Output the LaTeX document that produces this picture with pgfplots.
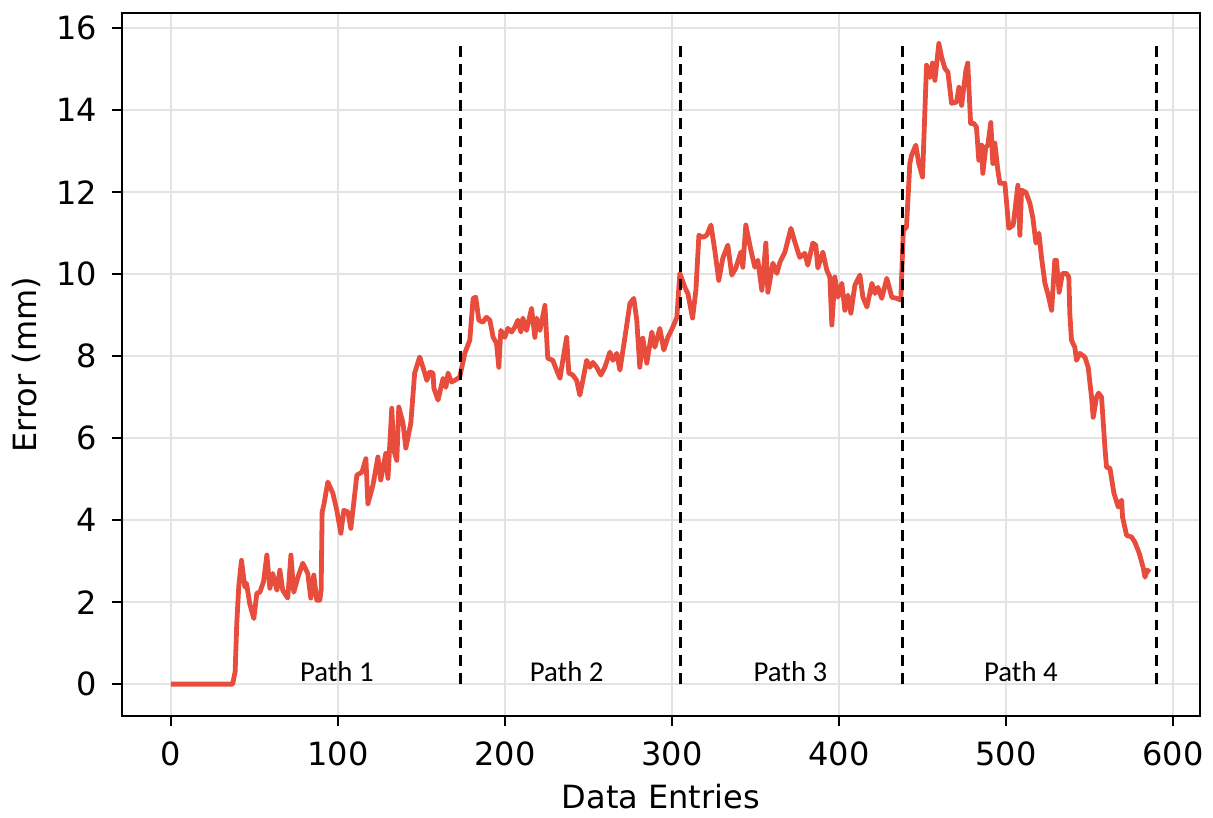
\documentclass[border=0pt]{standalone}
\usepackage{pgfplots}
\pgfplotsset{compat=1.18}
\usepackage{fontspec}
\setmainfont{DejaVu Sans}
\newfontfamily\pathfont{Carlito}
\definecolor{errred}{HTML}{E74C3C}
\definecolor{gridgray}{HTML}{E3E3E3}

\begin{document}
\begin{tikzpicture}
\useasboundingbox (-38.1pt,-31.6pt) rectangle (341pt,223.8pt);
\begin{axis}[
  at={(0,0)}, anchor=south west,
  scale only axis,
  width=336.9pt, height=219.7pt,
  xmin=-29.3, xmax=616.2,
  ymin=-0.78, ymax=16.37,
  xtick={0,100,...,600},
  ytick={0,2,...,16},
  tick pos=left,
  tick align=outside,
  major tick length=3.1pt,
  every tick/.style={black, line width=0.6pt},
  axis line style={line width=0.6pt},
  grid=major,
  major grid style={gridgray, line width=0.6pt},
  /pgf/number format/assume math mode=true,
  ticklabel style={font=\fontsize{10}{12}\selectfont},
  xticklabel style={yshift=-1.5pt},
  yticklabel style={xshift=-1.2pt},
  xlabel={Data Entries},
  ylabel={Error (mm)},
  every axis x label/.style={at={(axis description cs:0.5,0)}, yshift=-25.3pt, anchor=center, font=\fontsize{10}{12}\selectfont},
  every axis y label/.style={at={(axis description cs:0,0.5)}, xshift=-29.7pt, rotate=90, anchor=center, font=\fontsize{10}{12}\selectfont},
  clip=false,
]
% tracking error over all entries
\addplot[errred, line width=1.5pt, line join=round] coordinates {
(0,0) (37,0) (38.5,0.3) (39.5,1.5) (40.7,2.4) (42.3,3.02) (44.3,2.37) (45.3,2.46)
(47.3,1.95) (49.7,1.6) (51.5,2.22) (53.3,2.24) (55.5,2.5) (57.5,3.15) (59.3,2.34)
(61,2.7) (63.5,2.29) (65.3,2.78) (67,2.29) (70,2.1) (71.9,3.15) (73.6,2.24) (76,2.6)
(79,2.95) (82,2.7) (83.8,2.1) (85.6,2.66) (87.4,2.05) (89.2,2.05) (90.0,2.3)
(90.6,4.2) (91.6,4.37) (94,4.93) (97,4.66) (99.4,4.24) (101.8,3.68) (103.6,4.24)
(106,4.2) (107.8,3.8) (111.4,5.1) (114.4,5.17) (116.8,5.5) (118,4.4) (121,4.85)
(124,5.54) (125.7,4.98) (128.7,5.63) (130,5.02) (132.3,6.73) (133.5,5.7) (135.3,5.46)
(136.5,6.76) (139,6.37) (140.7,5.76) (143.7,6.37) (146,7.59) (149,7.98) (151,7.73)
(153.3,7.41) (155,7.61) (157,7.59) (157.5,7.22) (160,6.93) (163,7.46) (164.7,7.24)
(166,7.59) (168,7.37) (170,7.41) (173,7.49) (176,8.07) (179,8.39) (181,9.41)
(182.6,9.44) (184.4,8.88) (186.8,8.83) (189,8.95) (191,8.88) (193,8.46) (195,8.32)
(196.4,7.73) (197.6,8.63) (200,8.46) (201.8,8.68) (204,8.59) (206,8.71) (207.8,8.88)
(209.6,8.59) (210.8,8.93) (213,8.63) (216,9.17) (218,8.46) (219,8.93) (221,8.63)
(224,9.24) (225.7,7.95) (228.7,7.9) (231,7.66) (233,7.46) (234.7,7.9) (237,8.46)
(238.3,7.59) (240.7,7.54) (243,7.41) (244.9,7.05) (246.7,7.41) (249,7.9) (250.9,7.73)
(252.7,7.85) (255,7.73) (257.5,7.54) (259.9,7.73) (262.9,8.1) (264.7,7.9) (267,8.07)
(268.9,7.66) (271.9,8.46) (274.9,9.29) (277.2,9.41) (279,8.88) (280.8,7.73) (282.6,8.44)
(285,7.83) (288,8.59) (289.8,8.22) (292.8,8.68) (295.2,8.15) (297.6,8.46) (300.6,8.71)
(303,8.95) (304.8,10.02) (307.8,9.68) (309.6,9.53) (312.4,8.93) (314.4,9.61)
(316.2,10.95) (318.6,10.9) (320.9,10.95) (323.4,11.2) (325.7,10.59) (328.1,9.85)
(330.5,10.39) (333.5,10.71) (335.9,9.98) (338.3,10.15) (341.3,10.54) (342.5,10.17)
(344.3,11.2) (347.3,10.59) (349.7,10.17) (351.5,10.34) (353.9,9.61) (356.3,10.76)
(357.5,9.56) (360.5,10.27) (362.9,10.02) (364.7,10.29) (367.7,10.54) (371.3,11.12)
(373.7,10.78) (376.6,10.41) (379.6,10.51) (381.4,10.22) (384.4,10.76) (386.2,10.71)
(387.4,10.15) (390.4,10.54) (392.8,10.1) (394.6,9.93) (395.8,8.76) (397.6,9.93)
(399.4,9.44) (401.8,9.78) (403.6,9.12) (405.4,9.49) (407.2,9.05) (409.6,9.73)
(412.6,9.98) (414.4,9.44) (416.8,9.2) (419.8,9.78) (421.6,9.53) (423.4,9.68)
(425.7,9.41) (428.7,9.9) (431.7,9.44) (434.7,9.41) (437.1,9.37) (438.6,11.07)
(440.5,11.15) (442.5,12.7) (443.5,12.9) (446.1,13.15) (447.9,12.7) (450.1,12.37)
(452.5,15.1) (454.5,14.8) (456.1,15.15) (457.5,14.73) (459.9,15.63) (461.5,15.3)
(463.5,15.02) (465.3,14.93) (467.5,14.17) (470.5,14.2) (471.9,14.56) (473.5,14.12)
(476.1,14.98) (477.2,15.15) (478.9,13.68) (480.8,13.68) (482.4,13.59) (483.8,12.78)
(485.5,13.15) (486.2,12.46) (488,13.1) (489.2,13.15) (491,13.7) (492.2,12.7)
(493.4,13.2) (495.2,12.54) (496.4,12.22) (499.4,12.22) (501.8,11.12) (504.4,11.2)
(507.2,12.17) (508.4,10.95) (509.4,12.05) (512,12.0) (514.4,11.73) (516.2,11.37)
(518,10.76) (519.8,11.0) (521.4,10.39) (523.4,9.78) (525.1,9.53) (527.4,9.12)
(529.3,10.34) (530.3,10.34) (531.9,9.56) (533.9,10.02) (536.3,10.02) (537.7,9.93)
(538.3,9.05) (539.3,8.39) (541.3,8.22) (542.3,7.9) (544.3,8.07) (547.3,7.98)
(549.3,7.73) (551.3,7.0) (552.3,6.51) (554.3,7.0) (555.5,7.1) (557.3,7.0) (559.3,5.78)
(560.3,5.29) (562.3,5.27) (564.7,4.66) (567.3,4.32) (569.3,4.49) (569.9,4.07)
(572.3,3.63) (575.3,3.59) (577.3,3.46) (579.9,3.19) (582.3,2.83) (583.3,2.61)
(584.7,2.78) (586.3,2.73)
};
% path boundaries
\addplot[black, line width=0.9pt, dash pattern=on 3.4pt off 2.2pt] coordinates {(173.7,0) (173.7,15.6)};
\addplot[black, line width=0.9pt, dash pattern=on 3.4pt off 2.2pt] coordinates {(305.4,0) (305.4,15.6)};
\addplot[black, line width=0.9pt, dash pattern=on 3.4pt off 2.2pt] coordinates {(438.3,0) (438.3,15.6)};
\addplot[black, line width=0.9pt, dash pattern=on 3.4pt off 2.2pt] coordinates {(590.4,0) (590.4,15.6)};
\node[anchor=base, font=\pathfont\fontsize{9}{10}\selectfont] at (axis cs:99.4,0.06) {Path 1};
\node[anchor=base, font=\pathfont\fontsize{9}{10}\selectfont] at (axis cs:237,0.06) {Path 2};
\node[anchor=base, font=\pathfont\fontsize{9}{10}\selectfont] at (axis cs:371,0.06) {Path 3};
\node[anchor=base, font=\pathfont\fontsize{9}{10}\selectfont] at (axis cs:509,0.06) {Path 4};
\end{axis}
\end{tikzpicture}
\end{document}
